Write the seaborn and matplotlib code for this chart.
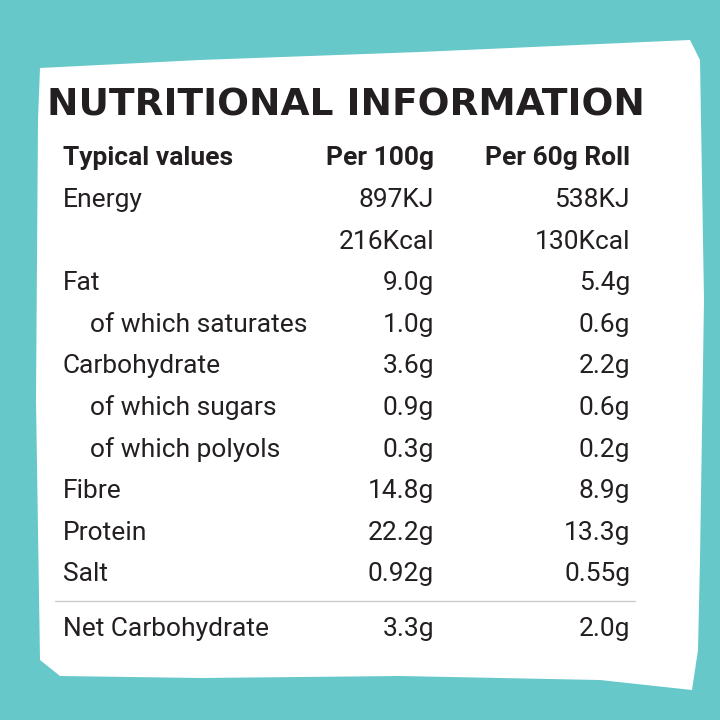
import matplotlib.pyplot as plt
import seaborn as sns
from matplotlib.patches import Polygon

sns.set_theme(style="white")

title = "NUTRITIONAL INFORMATION"
headers = ["Typical values", "Per 100g", "Per 60g Roll"]
nutrients = ["Energy", "", "Fat", "of which saturates", "Carbohydrate",
             "of which sugars", "of which polyols", "Fibre", "Protein", "Salt"]
indented = [False, False, False, True, False, True, True, False, False, False]
per_100g = ["897KJ", "216Kcal", "9.0g", "1.0g", "3.6g", "0.9g", "0.3g",
            "14.8g", "22.2g", "0.92g"]
per_roll = ["538KJ", "130Kcal", "5.4g", "0.6g", "2.2g", "0.6g", "0.2g",
            "8.9g", "13.3g", "0.55g"]
footer = ["Net Carbohydrate", "3.3g", "2.0g"]

teal = "#66c8c9"
ink = "#231f20"
font = "Roboto"

fig = plt.figure(figsize=(7.2, 7.2), dpi=100)
fig.patch.set_facecolor(teal)
ax = fig.add_axes([0, 0, 1, 1])
ax.set_xlim(0, 720)
ax.set_ylim(720, 0)
ax.axis("off")

# white rough card
blob = [(40, 68), (200, 60), (420, 52), (600, 44), (690, 40), (700, 60),
        (704, 300), (700, 560), (698, 650), (692, 690), (600, 680),
        (400, 676), (200, 678), (60, 676), (40, 660), (36, 400), (38, 120)]
ax.add_patch(Polygon(blob, closed=True, facecolor="white", edgecolor="none",
                     joinstyle="round"))

ax.text(346, 106, title, ha="center", va="center", fontsize=27,
        fontweight="heavy", fontfamily="DejaVu Sans", color=ink)

x_label, x_indent, x_100, x_roll = 63, 90, 434, 630
size = 19

y = 158
ax.text(x_label, y, headers[0], ha="left", va="center", fontsize=size,
        fontweight="bold", fontfamily=font, fontstretch="condensed", color=ink)
ax.text(x_100, y, headers[1], ha="right", va="center", fontsize=size,
        fontweight="bold", fontfamily=font, color=ink)
ax.text(x_roll, y, headers[2], ha="right", va="center", fontsize=size,
        fontweight="bold", fontfamily=font, color=ink)

step = 41.6
for i, (name, ind, a, b) in enumerate(zip(nutrients, indented, per_100g, per_roll)):
    y = 200 + i * step
    ax.text(x_indent if ind else x_label, y, name, ha="left", va="center",
            fontsize=size, fontfamily=font, color=ink)
    ax.text(x_100, y, a, ha="right", va="center", fontsize=size,
            fontfamily=font, color=ink)
    ax.text(x_roll, y, b, ha="right", va="center", fontsize=size,
            fontfamily=font, color=ink)

ax.plot([55, 635], [601, 601], color="#cccccc", lw=1)
y = 629
ax.text(x_label, y, footer[0], ha="left", va="center", fontsize=size,
        fontfamily=font, color=ink)
ax.text(x_100, y, footer[1], ha="right", va="center", fontsize=size,
        fontfamily=font, color=ink)
ax.text(x_roll, y, footer[2], ha="right", va="center", fontsize=size,
        fontfamily=font, color=ink)

fig.savefig("out.png", dpi=100, facecolor=teal)
